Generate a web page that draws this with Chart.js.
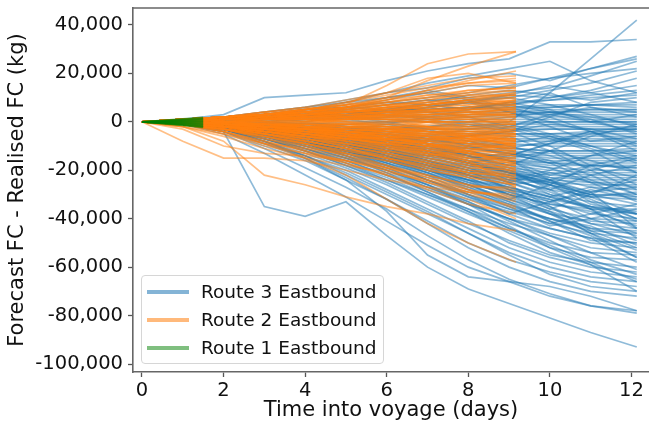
<!DOCTYPE html>
<html>
<head>
<meta charset="utf-8">
<script src="https://cdn.jsdelivr.net/npm/chart.js@4.4.1/dist/chart.umd.min.js"></script>
<style>
  html, body { margin: 0; padding: 0; background: #fff; overflow: hidden; }
  #wrap { position: relative; width: 649px; height: 423px; }
  #legend { position: absolute; left: 141px; top: 275px; width: 243px; height: 89px;
    border: 1px solid #d6d6d6; border-radius: 4px; background: rgba(255,255,255,0.85);
    font-family: 'DejaVu Sans', sans-serif; font-size: 18.5px; color: #111; box-sizing: border-box; }
  .row { position: absolute; left: 0; height: 26px; }
  .sw { position: absolute; left: 5px; width: 42px; height: 4px; }
  .tx { position: absolute; left: 59px; white-space: nowrap; line-height: 26px; }
</style>
</head>
<body>
<div id="wrap">
  <canvas id="c" width="649" height="423"></canvas>
  <div id="legend"></div>
</div>
<script>
// ---- axis ticks ----
const xTicks = [0, 2, 4, 6, 8, 10, 12];
const yTicks = [40000, 20000, 0, -20000, -40000, -60000, -80000, -100000];

// ---- series names / colours ----
const routeNames = ['Route 3 Eastbound', 'Route 2 Eastbound', 'Route 1 Eastbound'];
const routeColors = ['rgba(31,119,180,0.5)', 'rgba(255,127,14,0.5)', 'rgba(0,128,0,0.5)'];

// ---- time points (days) for each route ----
const route3Days = [0, 1, 2, 3, 4, 5, 6, 7, 8, 9, 10, 11, 12.13];
const route2Days = [0, 1, 2, 3, 4, 5, 6, 7, 8, 9.17];
const route1Days = [0, 0.5, 1, 1.5];

// ---- Forecast FC - Realised FC, thousands of kg, one row per voyage ----
const route3Lines = [
  [0,1,3,10,11,12,17,21,24,26,33,33,34],
  [0,0.5,1,2,3,2,1,0,-2,0,12,26,42],
  [0,0.5,1,3,5,8,12,14,18,20,17,22,27],
  [0,1,2,4,6,9,12,16,19,22,25,17,12],
  [0,1,2,3,5,6,8,10,12,15,18,22,26],
  [0,0,1,2,3,5,7,9,10,12,14,19,25],
  [0,1,1,2,4,6,9,12,15,14,18,20,22],
  [0,0,1,1,2,4,5,7,8,10,13,16,21],
  [0,1,2,3,4,4,6,7,9,11,10,13,18],
  [0,0,1,2,2,3,4,6,8,7,10,12,15],
  [0,1,1,2,3,4,5,5,6,8,9,11,13],
  [0,0,1,1,2,3,3,5,6,7,9,10,11],
  [0,1,1,2,3,3,4,4,5,6,7,7,8],
  [0,0,0,1,1,2,3,4,4,5,6,7,7],
  [0,1,2,3,3,4,5,5,6,6,6,7,6],
  [0,0,1,1,2,2,2,3,4,4,5,5,5],
  [0,0,0,1,1,1,2,2,3,3,4,5,5],
  [0,1,1,2,2,3,3,3,3,4,4,4,4],
  [0,0,1,0,1,1,2,2,2,3,3,3,3],
  [0,0,0,0,1,1,1,1,2,2,2,2,2],
  [0,0,0,-1,-1,0,0,1,1,1,1,1,1],
  [0,0,-1,-1,-1,-1,0,0,0,0,0,0,0],
  [0,0,0,0,-1,-1,-1,-2,-1,-1,0,0,0],
  [0,0,-1,-1,-2,-2,-2,-2,-2,-1,-1,-1,-1],
  [0,0,0,-1,-1,-2,-2,-3,-3,-2,-2,-2,-2],
  [0,0,-1,-1,-2,-2,-3,-3,-3,-3,-3,-3,-3],
  [0,0,-1,-2,-2,-3,-3,-4,-4,-4,-3,-3,-3],
  [0,0,-1,-1,-2,-3,-3,-4,-4,-5,-5,-4,-4],
  [0,-1,-1,-2,-3,-3,-4,-5,-5,-5,-5,-5,-5],
  [0,0,-1,-2,-2,-3,-4,-4,-5,-6,-6,-6,-6],
  [0,0,-1,-2,-3,-4,-5,-6,-6,-7,-7,-7,-7],
  [0,-1,-1,-2,-4,-4,-5,-7,-8,-8,-8,-8,-8],
  [0,0,-1,-3,-3,-5,-6,-7,-9,-10,-9,-9,-9],
  [0,-1,-2,-3,-4,-6,-7,-8,-9,-9,-10,-10,-10],
  [0,0,-1,-2,-4,-5,-6,-8,-9,-11,-12,-12,-11],
  [0,-1,-2,-3,-3,-4,-6,-9,-10,-11,-12,-12,-12],
  [0,0,-2,-3,-5,-6,-8,-9,-11,-12,-13,-13,-13],
  [0,-1,-1,-3,-4,-6,-9,-10,-11,-13,-14,-14,-14],
  [0,0,-1,-2,-4,-5,-7,-9,-11,-13,-15,-15,-15],
  [0,-1,-2,-4,-5,-7,-9,-11,-13,-14,-16,-16,-16],
  [0,0,-1,-3,-5,-7,-8,-10,-12,-15,-17,-17,-17],
  [0,-1,-2,-3,-6,-8,-10,-12,-14,-16,-18,-18,-18],
  [0,0,-2,-4,-6,-8,-10,-11,-13,-16,-17,-18,-19],
  [0,-1,-1,-3,-5,-7,-9,-12,-14,-17,-19,-20,-20],
  [0,0,-2,-3,-4,-6,-9,-12,-15,-18,-20,-21,-21],
  [0,-1,-2,-4,-6,-9,-11,-13,-16,-19,-21,-22,-22],
  [0,0,-1,-3,-6,-8,-11,-14,-17,-20,-22,-23,-23],
  [0,-1,-2,-4,-7,-9,-12,-15,-18,-21,-23,-24,-24],
  [0,0,-2,-4,-6,-9,-12,-16,-19,-22,-24,-25,-25],
  [0,-1,-2,-5,-7,-10,-13,-16,-20,-23,-25,-26,-26],
  [0,-1,-3,-5,-8,-11,-14,-18,-22,-26,-24,-20,-15],
  [0,0,-1,-3,-5,-7,-9,-10,-14,-18,-23,-27,-28],
  [0,-1,-2,-4,-6,-8,-10,-13,-17,-21,-25,-30,-30],
  [0,0,-2,-5,-8,-12,-15,-19,-22,-24,-28,-31,-32],
  [0,-1,-2,-4,-7,-10,-14,-18,-21,-23,-26,-30,-34],
  [0,0,-1,-4,-6,-9,-12,-16,-20,-25,-30,-33,-35],
  [0,-1,-3,-6,-9,-12,-15,-18,-22,-28,-32,-35,-37],
  [0,0,-2,-4,-7,-11,-15,-20,-25,-30,-34,-36,-38],
  [0,-1,-2,-5,-9,-13,-17,-22,-26,-29,-33,-38,-40],
  [0,0,-1,-3,-6,-10,-14,-19,-24,-30,-36,-40,-41],
  [0,-1,-3,-6,-10,-14,-18,-23,-28,-33,-38,-41,-42],
  [0,0,-2,-5,-8,-12,-17,-22,-27,-32,-37,-42,-44],
  [0,-1,-2,-4,-8,-13,-18,-24,-30,-35,-40,-44,-45],
  [0,0,-1,-4,-8,-12,-16,-21,-27,-34,-40,-45,-46],
  [0,-1,-3,-7,-11,-15,-20,-26,-32,-37,-42,-46,-48],
  [0,0,-2,-5,-9,-14,-19,-25,-31,-38,-44,-48,-50],
  [0,-1,-3,-6,-10,-15,-21,-27,-33,-40,-46,-50,-52],
  [0,0,-2,-6,-11,-16,-22,-29,-36,-42,-47,-52,-54],
  [0,-1,-3,-7,-12,-17,-23,-30,-37,-44,-50,-54,-55],
  [0,0,-2,-6,-11,-17,-24,-31,-38,-45,-52,-56,-57],
  [0,-1,-3,-8,-13,-19,-26,-34,-42,-49,-55,-58,-60],
  [0,0,-2,-7,-12,-18,-25,-33,-41,-50,-56,-60,-62],
  [0,-1,-4,-9,-14,-20,-28,-36,-44,-52,-58,-62,-64],
  [0,0,-3,-8,-14,-22,-30,-38,-46,-54,-60,-64,-66],
  [0,-1,-3,-9,-15,-23,-32,-41,-50,-57,-62,-66,-68],
  [0,0,-3,-8,-14,-21,-29,-37,-46,-55,-63,-68,-70],
  [0,-1,-4,-10,-16,-24,-32,-42,-52,-60,-66,-70,-72],
  [0,-1,-4,-11,-19,-27,-36,-47,-57,-65,-71,-76,-78],
  [0,-1,-5,-13,-22,-31,-41,-51,-60,-66,-72,-76,-79],
  [0,-1,-4,-35,-39,-33,-47,-60,-69,-75,-81,-87,-93],
  [0,0,-1,-2,-4,-6,-10,-14,-10,-6,-12,-20,-28],
  [0,-1,-2,-3,-3,-5,-8,-12,-18,-24,-20,-14,-8],
  [0,0,-1,-3,-5,-8,-12,-16,-20,-28,-36,-30,-22],
  [0,-1,-1,-2,-4,-5,-6,-8,-6,-4,-10,-18,-26],
  [0,0,-2,-4,-6,-9,-14,-20,-26,-32,-26,-18,-14],
  [0,-1,-2,-3,-5,-7,-9,-13,-17,-14,-9,-4,-2],
  [0,0,-1,-3,-6,-10,-15,-21,-28,-35,-43,-40,-36],
  [0,-1,-3,-5,-8,-12,-16,-22,-30,-38,-33,-28,-32],
  [0,0,-1,-2,-2,-3,-5,-9,-14,-20,-28,-36,-44],
  [0,-1,-2,-4,-7,-10,-12,-14,-12,-16,-24,-33,-40],
  [0,0,1,2,3,2,0,-3,-8,-12,-16,-22,-30],
  [0,1,2,3,5,6,5,4,2,-2,-6,-10,-14],
  [0,0,1,1,0,-2,-4,-6,-10,-14,-9,-5,-3],
  [0,-1,-2,-3,-4,-7,-11,-16,-22,-27,-31,-36,-48],
  [0,0,-1,-2,-5,-9,-13,-17,-21,-26,-35,-45,-52],
  [0,-1,-3,-6,-9,-13,-18,-24,-30,-36,-42,-38,-34],
  [0,0,-2,-5,-9,-14,-20,-27,-34,-40,-44,-48,-58],
  [0,-1,-3,-7,-12,-18,-24,-30,-36,-44,-51,-58,-66],
  [0,0,-1,-3,-5,-8,-12,-17,-23,-30,-38,-46,-56],
  [0,1,2,4,6,8,10,13,10,6,2,-4,-10],
  [0,-1,-3,-8,-15,-24,-37,-55,-64,-66,-68,-72,-78],
  [0,1,2,3,4,6,8,7,5,8,12,6,2],
  [0,0,1,2,4,5,3,1,-1,-4,2,8,10],
  [0,1,1,3,5,7,10,12,9,4,-2,-8,-6],
  [0,0,-1,-1,0,2,4,6,8,4,0,-4,-12],
  [0,-1,-1,-3,-4,-3,-1,2,5,8,5,0,-4],
  [0,0,1,2,2,1,-1,-4,-6,-2,3,6,4],
  [0,-1,-2,-2,-4,-6,-8,-6,-3,-1,-5,-10,-16],
  [0,0,-1,-2,-3,-5,-7,-10,-14,-18,-12,-6,-1],
  [0,1,1,0,-1,-3,-6,-9,-12,-16,-22,-18,-19],
  [0,0,-1,-3,-5,-6,-8,-11,-15,-13,-17,-24,-30],
  [0,-1,-2,-4,-5,-8,-11,-15,-19,-24,-28,-22,-18],
  [0,0,-1,-2,-3,-4,-6,-9,-13,-16,-19,-25,-33],
  [0,-1,-2,-3,-6,-9,-13,-17,-21,-25,-21,-25,-27],
  [0,0,-2,-4,-6,-8,-10,-12,-16,-20,-26,-34,-38],
  [0,-1,-2,-3,-5,-8,-12,-14,-17,-22,-30,-36,-36],
  [0,0,-1,-4,-7,-10,-13,-17,-22,-27,-33,-29,-24],
  [0,-1,-3,-5,-7,-11,-16,-20,-24,-28,-32,-40,-46],
  [0,0,-2,-4,-7,-11,-14,-17,-20,-22,-26,-32,-40],
  [0,-1,-2,-4,-6,-9,-14,-19,-25,-30,-34,-37,-43],
  [0,0,-1,-3,-6,-10,-15,-20,-24,-27,-31,-35,-38],
  [0,-1,-3,-6,-10,-13,-16,-20,-26,-32,-38,-44,-49],
  [0,0,-2,-5,-9,-12,-15,-18,-23,-29,-35,-42,-47],
  [0,-1,-2,-4,-7,-11,-17,-24,-31,-36,-40,-43,-51],
  [0,0,-1,-3,-5,-9,-13,-18,-24,-31,-37,-46,-53],
  [0,-1,-3,-6,-8,-12,-18,-24,-29,-34,-41,-49,-50],
  [0,0,-2,-5,-8,-12,-16,-21,-26,-33,-41,-47,-56],
  [0,-1,-3,-7,-11,-16,-22,-28,-34,-40,-47,-54,-61],
  [0,0,-2,-5,-10,-15,-20,-26,-33,-41,-49,-57,-63],
  [0,-1,-3,-6,-9,-13,-19,-26,-34,-43,-52,-59,-65],
  [0,0,-2,-4,-8,-14,-21,-29,-37,-46,-54,-59,-70],
  [0,1,2,3,4,5,7,9,8,7,4,1,-5],
  [0,0,1,2,3,4,4,6,8,11,15,12,8],
  [0,1,1,2,3,3,5,8,11,13,11,9,12],
  [0,0,1,1,2,3,5,7,9,10,7,3,-2],
  [0,0,0,1,2,3,3,2,0,-3,-7,-12,-21],
  [0,1,2,2,3,4,4,5,6,5,3,0,3],
  [0,0,0,0,-1,-2,-3,-2,0,2,4,2,-1],
  [0,0,-1,-1,-2,-3,-5,-7,-6,-4,-1,-3,-7],
  [0,-1,-1,-2,-3,-4,-4,-5,-7,-10,-14,-19,-23],
  [0,0,-1,-2,-3,-3,-4,-6,-8,-11,-8,-4,-9],
  [0,-1,-1,-2,-2,-4,-6,-8,-11,-9,-6,-11,-17],
  [0,0,-1,-1,-3,-4,-5,-7,-10,-13,-17,-14,-12],
  [0,-1,-2,-3,-4,-5,-7,-10,-13,-15,-12,-16,-21],
  [0,0,-1,-2,-3,-5,-8,-11,-14,-19,-24,-29,-27],
  [0,-1,-1,-3,-5,-7,-10,-13,-17,-21,-27,-31,-29],
  [0,0,-2,-3,-4,-6,-8,-12,-17,-23,-29,-35,-41],
  [0,-1,-2,-4,-5,-7,-9,-12,-16,-21,-26,-30,-31],
  [0,0,-1,-2,-4,-7,-10,-14,-19,-25,-31,-27,-31],
  [0,-1,-2,-3,-5,-8,-11,-15,-18,-20,-24,-31,-38],
  [0,0,-1,-3,-4,-6,-9,-13,-17,-21,-25,-29,-44]
];

const route2Lines = [
  [0,1,2,3,5,7,15,24,28,29],
  [0,1,2,3,4,6,10,17,23,29],
  [0,1,2,3,5,7,9,13,17,21],
  [0,1,2,4,6,9,12,15,18,19],
  [0,0,1,2,4,6,9,13,16,17],
  [0,1,2,3,5,8,12,18,20,16],
  [0,1,2,3,4,6,8,10,13,14],
  [0,1,1,2,3,5,7,9,11,13],
  [0,0,1,2,3,5,6,8,10,12],
  [0,1,2,3,4,5,7,8,10,11],
  [0,1,2,3,4,5,6,7,8,10],
  [0,1,1,2,3,4,5,6,8,9],
  [0,1,2,2,3,4,5,6,7,8],
  [0,0,1,2,2,3,4,5,6,7],
  [0,1,1,2,2,3,4,5,5,6],
  [0,0,1,1,2,3,3,4,5,5],
  [0,1,1,2,2,2,3,3,4,4],
  [0,0,1,1,1,2,2,3,3,3],
  [0,0,0,1,1,1,2,2,2,2],
  [0,0,1,1,1,1,1,1,1,1],
  [0,0,0,0,0,1,1,0,0,0],
  [0,0,0,0,-1,-1,-1,-1,-1,-1],
  [0,0,-1,-1,-1,-1,-2,-2,-2,-2],
  [0,0,0,-1,-1,-2,-2,-2,-3,-3],
  [0,0,-1,-1,-2,-2,-3,-3,-4,-4],
  [0,0,-1,-1,-2,-3,-3,-4,-4,-5],
  [0,-1,-1,-2,-2,-3,-4,-5,-5,-6],
  [0,0,-1,-2,-3,-3,-4,-5,-6,-7],
  [0,-1,-1,-2,-3,-4,-5,-6,-7,-8],
  [0,0,-1,-2,-3,-4,-5,-7,-8,-9],
  [0,-1,-2,-2,-3,-5,-6,-7,-9,-10],
  [0,0,-1,-2,-4,-5,-7,-8,-10,-11],
  [0,-1,-2,-3,-4,-6,-7,-9,-11,-12],
  [0,0,-1,-3,-4,-6,-8,-10,-12,-13],
  [0,-1,-2,-3,-5,-7,-9,-11,-13,-14],
  [0,0,-2,-3,-5,-7,-9,-12,-14,-15],
  [0,-1,-2,-4,-6,-8,-10,-12,-15,-16],
  [0,0,-1,-3,-5,-8,-11,-13,-16,-17],
  [0,-1,-2,-4,-6,-9,-11,-14,-17,-18],
  [0,0,-2,-4,-7,-9,-12,-15,-18,-19],
  [0,-1,-2,-4,-7,-10,-13,-16,-19,-20],
  [0,0,-2,-5,-7,-10,-13,-17,-20,-21],
  [0,-1,-3,-5,-8,-11,-14,-17,-21,-22],
  [0,0,-2,-5,-8,-11,-15,-18,-21,-23],
  [0,-1,-3,-6,-9,-12,-15,-19,-22,-24],
  [0,1,2,4,6,5,3,1,-2,-4],
  [0,0,-1,-2,-1,1,3,5,4,2],
  [0,1,1,0,-2,-4,-3,0,3,6],
  [0,0,-1,-3,-5,-6,-4,-2,-5,-8],
  [0,-1,-2,-2,-3,-5,-8,-10,-8,-5],
  [0,1,2,3,3,2,1,-2,-6,-10],
  [0,0,1,2,4,6,7,5,2,0],
  [0,-1,-2,-4,-6,-7,-6,-5,-8,-12],
  [0,0,0,-1,-3,-6,-9,-8,-6,-3],
  [0,1,2,2,1,-1,-3,-6,-9,-13],
  [0,0,-1,-1,0,2,4,7,9,8],
  [0,-1,-1,-3,-4,-4,-6,-9,-13,-16],
  [0,0,1,1,2,4,5,4,6,9],
  [0,0,-1,-2,-4,-6,-10,-14,-12,-9],
  [0,1,1,3,4,4,6,9,12,15],
  [0,-8,-15,-15,-16,-20,-24,-27,-29,-30],
  [0,-2,-8,-22,-26,-31,-35,-38,-42,-45],
  [0,-1,-4,-9,-15,-22,-32,-42,-50,-58],
  [0,-1,-5,-10,-13,-17,-22,-28,-34,-38],
  [0,-1,-4,-8,-12,-16,-20,-25,-30,-35],
  [0,-2,-6,-11,-15,-18,-21,-24,-28,-32],
  [0,-1,-3,-7,-10,-14,-18,-22,-26,-28],
  [0,-1,-4,-9,-11,-13,-16,-20,-23,-26],
  [0,-3,-10,-13,-14,-16,-19,-22,-26,-29],
  [0,-1,-3,-6,-9,-13,-18,-23,-28,-33],
  [0,0,-1,-1,-2,-2,-3,-4,-6,-8],
  [0,1,1,1,1,0,-1,-2,-4,-6],
  [0,0,0,1,2,2,3,2,1,-1],
  [0,0,-1,-2,-2,-1,0,1,2,4],
  [0,1,2,3,4,4,4,3,3,3],
  [0,0,-1,-2,-4,-5,-6,-6,-7,-7],
  [0,0,1,2,3,3,2,0,-3,-5],
  [0,-1,-1,-2,-3,-4,-4,-3,-2,-1],
  [0,0,0,-1,-1,-2,-4,-6,-9,-11],
  [0,1,2,2,3,4,6,7,9,11],
  [0,1,1,2,3,4,6,7,9,12],
  [0,0,1,2,3,4,5,7,9,10],
  [0,1,2,3,3,4,5,6,7,9],
  [0,0,1,1,2,3,4,5,6,8],
  [0,1,1,2,3,3,4,4,5,7],
  [0,0,0,1,2,2,3,4,5,6],
  [0,1,1,1,2,2,3,3,4,5],
  [0,0,1,1,1,2,2,2,3,4],
  [0,0,0,1,1,1,1,2,2,3],
  [0,0,0,0,1,1,1,1,1,2],
  [0,0,0,0,0,0,0,0,0,1],
  [0,0,0,-1,-1,-1,-1,0,0,0],
  [0,0,-1,-1,-1,-2,-2,-2,-1,-1],
  [0,0,0,-1,-2,-2,-3,-3,-3,-2],
  [0,0,-1,-1,-2,-3,-4,-4,-4,-3],
  [0,-1,-1,-2,-3,-3,-4,-4,-5,-4],
  [0,0,-1,-2,-2,-3,-4,-5,-6,-5],
  [0,-1,-1,-2,-3,-4,-5,-6,-6,-6],
  [0,0,-1,-2,-3,-4,-5,-6,-7,-7],
  [0,-1,-2,-3,-3,-4,-6,-7,-8,-8],
  [0,0,-1,-2,-4,-5,-6,-8,-9,-9],
  [0,-1,-2,-3,-4,-5,-7,-8,-10,-10],
  [0,0,-1,-3,-4,-6,-7,-9,-10,-11],
  [0,-1,-2,-3,-5,-6,-8,-10,-11,-12],
  [0,0,-2,-3,-5,-7,-8,-10,-12,-13],
  [0,-1,-2,-4,-5,-7,-9,-11,-13,-14],
  [0,0,-1,-3,-5,-7,-10,-12,-14,-15],
  [0,-1,-2,-4,-6,-8,-10,-13,-15,-16],
  [0,0,-2,-4,-6,-8,-11,-13,-16,-17],
  [0,-1,-2,-4,-6,-9,-12,-14,-17,-18],
  [0,0,-2,-4,-7,-9,-12,-15,-18,-19],
  [0,-1,-3,-5,-7,-10,-13,-16,-19,-20],
  [0,0,-2,-5,-8,-11,-14,-17,-20,-22],
  [0,-1,-3,-5,-8,-11,-15,-18,-21,-23],
  [0,0,-2,-5,-9,-12,-15,-19,-22,-25],
  [0,-1,-3,-6,-9,-13,-16,-20,-23,-26],
  [0,1,2,3,5,6,8,10,11,11],
  [0,0,1,3,4,6,7,8,8,7],
  [0,1,2,2,2,1,2,3,4,5],
  [0,0,-1,-1,-3,-4,-6,-7,-7,-9],
  [0,-1,-1,-1,-2,-4,-5,-4,-6,-10],
  [0,0,1,1,0,-1,-2,-4,-5,-7],
  [0,1,1,2,1,0,-2,-4,-7,-9],
  [0,0,-1,-2,-4,-6,-7,-9,-11,-14],
  [0,-1,-2,-2,-3,-5,-7,-10,-13,-17],
  [0,0,0,-1,-2,-4,-6,-9,-12,-18],
  [0,-1,-2,-4,-5,-6,-7,-9,-12,-20],
  [0,0,-1,-3,-5,-7,-9,-11,-15,-21],
  [0,-1,-2,-4,-6,-7,-9,-13,-17,-24],
  [0,0,-1,-2,-3,-5,-8,-12,-16,-27],
  [0,1,2,3,5,8,11,14,16,18],
  [0,1,2,4,5,7,10,12,15,16],
  [0,0,1,3,5,7,8,11,13,14],
  [0,1,2,3,4,6,9,11,12,13],
  [0,-1,-3,-6,-10,-14,-19,-24,-29,-36],
  [0,-1,-4,-8,-12,-17,-22,-27,-32,-40],
  [0,-2,-5,-9,-13,-16,-20,-25,-29,-31],
  [0,-1,-3,-7,-11,-15,-19,-23,-27,-27]
];

const route1Lines = [
  [0,0.6,1.2,1.8],
  [0,0.5,1.0,1.5],
  [0,0.4,0.8,1.2],
  [0,0.3,0.6,0.9],
  [0,0.2,0.4,0.6],
  [0,0.1,0.2,0.3],
  [0,0.0,0.0,0.0],
  [0,-0.1,-0.2,-0.3],
  [0,-0.2,-0.4,-0.6],
  [0,-0.3,-0.6,-0.9],
  [0,-0.4,-0.8,-1.2],
  [0,-0.5,-1.0,-1.5],
  [0,-0.6,-1.2,-1.8],
  [0,-0.7,-1.4,-2.1],
  [0,-0.8,-1.5,-2.3]
];

// ---- build datasets ----
const routes = [
  { days: route3Days, lines: route3Lines },
  { days: route2Days, lines: route2Lines },
  { days: route1Days, lines: route1Lines }
];
const datasets = [];
routes.forEach((r, ri) => {
  r.lines.forEach(line => {
    datasets.push({
      label: routeNames[ri],
      data: r.days.map((d, i) => ({ x: d, y: line[i] * 1000 })),
      borderColor: routeColors[ri],
      borderWidth: 1.7,
      pointRadius: 0,
      fill: false,
      tension: 0,
      order: 3 - ri
    });
  });
});

const frame = {
  id: 'frame',
  afterDatasetsDraw(chart) {
    const { ctx, chartArea } = chart;
    ctx.save();
    ctx.strokeStyle = '#666';
    ctx.lineWidth = 1.6;
    ctx.beginPath();
    ctx.moveTo(chartArea.left, chartArea.top);
    ctx.lineTo(chartArea.right + 5, chartArea.top);
    ctx.stroke();
    ctx.restore();
  }
};

const fontFam = "'DejaVu Sans', sans-serif";
new Chart(document.getElementById('c'), {
  type: 'line',
  data: { datasets },
  plugins: [frame],
  options: {
    responsive: false,
    animation: false,
    devicePixelRatio: 1,
    layout: { padding: { top: 8, right: 0, left: 0, bottom: 0 } },
    plugins: { legend: { display: false }, tooltip: { enabled: false } },
    scales: {
      x: {
        type: 'linear',
        min: -0.22, max: 12.43,
        afterBuildTicks: s => { s.ticks = xTicks.map(v => ({ value: v })); },
        afterFit: s => { s.height = 51; s.paddingLeft = 0; s.paddingRight = 0; },
        grid: { drawOnChartArea: false, drawTicks: true, tickLength: 5, tickColor: '#555', tickWidth: 1.3 },
        border: { display: true, color: '#666', width: 1.6 },
        ticks: { font: { family: fontFam, size: 19.5 }, color: '#111', padding: 2, maxRotation: 0, autoSkip: false,
                 callback: v => String(v) },
        title: { display: true, text: 'Time into voyage (days)', font: { family: fontFam, size: 21 }, color: '#111',
                 padding: { top: 0, bottom: 0 } }
      },
      y: {
        type: 'linear',
        min: -103300, max: 47000,
        afterBuildTicks: s => { s.ticks = yTicks.map(v => ({ value: v })); },
        afterFit: s => { s.width = 133; s.paddingTop = 0; s.paddingBottom = 0; },
        grid: { drawOnChartArea: false, drawTicks: true, tickLength: 5, tickColor: '#555', tickWidth: 1.3 },
        border: { display: true, color: '#666', width: 1.6 },
        ticks: { font: { family: fontFam, size: 19.5 }, color: '#111', padding: 5, autoSkip: false,
                 callback: v => v.toLocaleString('en-US') },
        title: { display: true, text: 'Forecast FC - Realised FC (kg)', font: { family: fontFam, size: 21 }, color: '#111',
                 padding: { top: 5, bottom: 0 } }
      }
    }
  }
});

// ---- legend (inside the axes, lower left) ----
const legendColors = ['rgba(31,119,180,0.55)', 'rgba(255,127,14,0.55)', 'rgba(0,128,0,0.5)'];
const lg = document.getElementById('legend');
routeNames.forEach((name, i) => {
  const row = document.createElement('div');
  row.className = 'row';
  row.style.top = (3 + i * 28) + 'px';
  row.style.width = '100%';
  const sw = document.createElement('div');
  sw.className = 'sw';
  sw.style.background = legendColors[i];
  sw.style.top = '11px';
  const tx = document.createElement('div');
  tx.className = 'tx';
  tx.textContent = name;
  tx.style.top = '0px';
  row.appendChild(sw);
  row.appendChild(tx);
  lg.appendChild(row);
});
</script>
</body>
</html>
